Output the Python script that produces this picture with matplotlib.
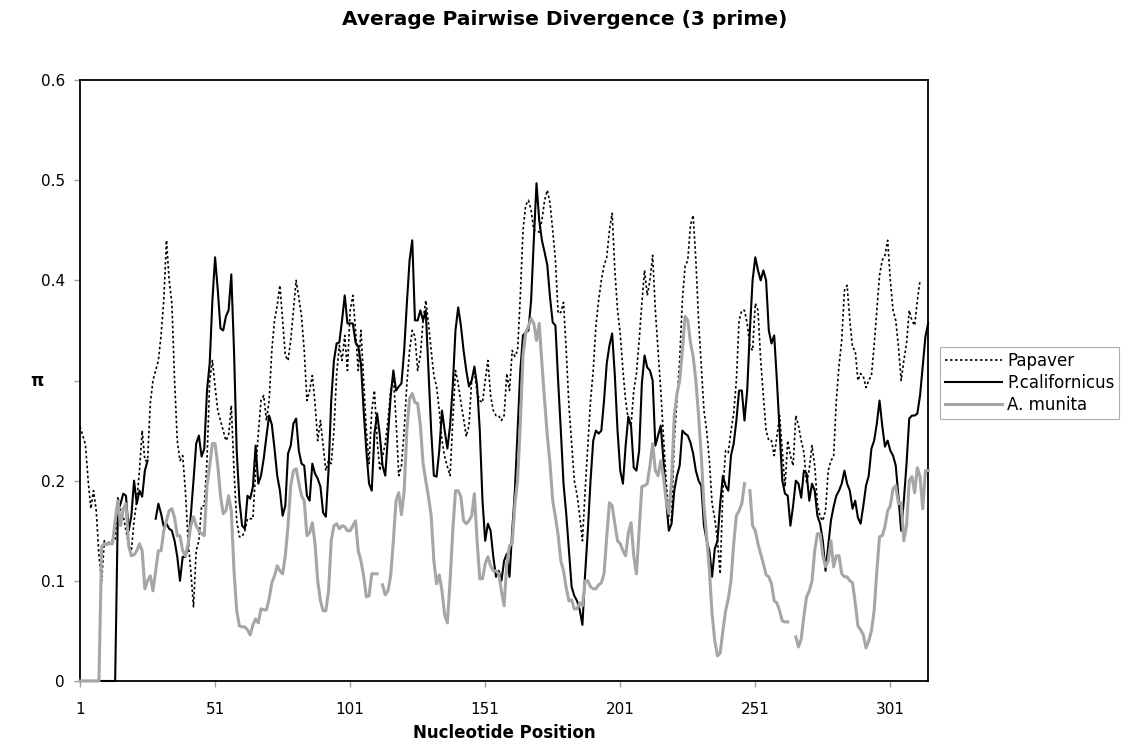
import numpy as np
import matplotlib
matplotlib.use("Agg")
from matplotlib import pyplot as plt

nan = np.nan

# valores, posicion 1..315
papaver = [
    0.254, 0.245, 0.236, 0.20, 0.172, 0.19, 0.17, 0.125, 0.10, 0.14,
    0.135, 0.14, 0.14, 0.14, 0.184, 0.17, 0.165, 0.15, 0.137, 0.13,
    0.16, 0.18, 0.21, 0.25, 0.22, 0.22, 0.277, 0.30, 0.31, 0.32,
    0.345, 0.38, 0.44, 0.40, 0.377, 0.30, 0.24, 0.22, 0.225, 0.19,
    0.14, 0.11, 0.074, 0.13, 0.14, 0.175, 0.175, 0.22, 0.30, 0.32,
    0.294, 0.27, 0.26, 0.25, 0.24, 0.245, 0.275, 0.21, 0.16, 0.144,
    0.144, 0.15, 0.162, 0.162, 0.162, 0.21, 0.247, 0.28, 0.285, 0.26,
    0.28, 0.33, 0.36, 0.375, 0.395, 0.36, 0.325, 0.32, 0.34, 0.37,
    0.40, 0.383, 0.364, 0.33, 0.28, 0.29, 0.305, 0.277, 0.24, 0.26,
    0.235, 0.21, 0.22, 0.217, 0.25, 0.307, 0.335, 0.32, 0.345, 0.31,
    0.37, 0.385, 0.35, 0.31, 0.35, 0.30, 0.25, 0.217, 0.27, 0.29,
    0.24, 0.21, 0.224, 0.237, 0.26, 0.29, 0.305, 0.26, 0.205, 0.215,
    0.25, 0.297, 0.33, 0.35, 0.344, 0.31, 0.325, 0.36, 0.38, 0.357,
    0.33, 0.305, 0.294, 0.27, 0.24, 0.224, 0.214, 0.205, 0.26, 0.31,
    0.297, 0.278, 0.262, 0.244, 0.255, 0.30, 0.31, 0.288, 0.28, 0.278,
    0.30, 0.32, 0.285, 0.27, 0.265, 0.265, 0.26, 0.265, 0.307, 0.29,
    0.33, 0.324, 0.33, 0.384, 0.45, 0.475, 0.48, 0.47, 0.45, 0.45,
    0.448, 0.46, 0.48, 0.49, 0.477, 0.45, 0.42, 0.367, 0.368, 0.378,
    0.33, 0.275, 0.237, 0.20, 0.186, 0.165, 0.14, 0.19, 0.235, 0.28,
    0.31, 0.355, 0.38, 0.40, 0.415, 0.423, 0.45, 0.467, 0.41, 0.37,
    0.347, 0.31, 0.28, 0.26, 0.255, 0.29, 0.307, 0.34, 0.377, 0.41,
    0.385, 0.40, 0.425, 0.37, 0.33, 0.29, 0.244, 0.20, 0.165, 0.16,
    0.24, 0.28, 0.32, 0.38, 0.414, 0.42, 0.455, 0.465, 0.42, 0.36,
    0.315, 0.27, 0.25, 0.22, 0.177, 0.162, 0.14, 0.107, 0.19, 0.23,
    0.228, 0.25, 0.267, 0.30, 0.36, 0.37, 0.37, 0.357, 0.334, 0.33,
    0.377, 0.37, 0.32, 0.284, 0.25, 0.24, 0.24, 0.225, 0.244, 0.265,
    0.23, 0.194, 0.24, 0.225, 0.215, 0.265, 0.255, 0.24, 0.228, 0.197,
    0.212, 0.235, 0.215, 0.177, 0.164, 0.16, 0.17, 0.21, 0.22, 0.224,
    0.28, 0.315, 0.34, 0.39, 0.395, 0.36, 0.333, 0.33, 0.30, 0.307,
    0.304, 0.293, 0.30, 0.305, 0.335, 0.37, 0.405, 0.42, 0.425, 0.44,
    0.40, 0.37, 0.36, 0.334, 0.30, 0.32, 0.337, 0.37, 0.36, 0.355,
    0.38, 0.40, nan, nan, nan,
]

californicus = [
    0, 0, 0, 0, 0, 0, 0, 0, 0, 0,
    0, 0, 0, 0, 0.17, 0.177, 0.187, 0.185, 0.15, 0.165,
    0.20, 0.177, 0.19, 0.184, 0.21, 0.22, nan, nan, 0.162, 0.177,
    0.167, 0.154, 0.157, 0.152, 0.15, 0.14, 0.124, 0.10, 0.124, 0.124,
    0.134, 0.165, 0.20, 0.237, 0.245, 0.224, 0.232, 0.29, 0.317, 0.38,
    0.423, 0.39, 0.352, 0.35, 0.364, 0.37, 0.406, 0.33, 0.23, 0.18,
    0.155, 0.152, 0.185, 0.182, 0.194, 0.235, 0.197, 0.205, 0.222, 0.244,
    0.265, 0.256, 0.232, 0.205, 0.19, 0.165, 0.175, 0.227, 0.235, 0.257,
    0.262, 0.23, 0.217, 0.215, 0.185, 0.18, 0.217, 0.207, 0.202, 0.194,
    0.168, 0.164, 0.21, 0.28, 0.32, 0.337, 0.338, 0.36, 0.385, 0.357,
    0.357, 0.357, 0.338, 0.334, 0.317, 0.27, 0.23, 0.197, 0.19, 0.247,
    0.267, 0.245, 0.215, 0.205, 0.244, 0.284, 0.31, 0.29, 0.294, 0.297,
    0.33, 0.377, 0.42, 0.44, 0.36, 0.36, 0.37, 0.36, 0.37, 0.31,
    0.25, 0.205, 0.204, 0.23, 0.27, 0.25, 0.232, 0.255, 0.295, 0.35,
    0.373, 0.355, 0.33, 0.31, 0.294, 0.30, 0.314, 0.295, 0.25, 0.18,
    0.14, 0.157, 0.15, 0.124, 0.104, 0.11, 0.10, 0.12, 0.127, 0.104,
    0.15, 0.19, 0.25, 0.31, 0.345, 0.348, 0.35, 0.38, 0.44, 0.497,
    0.46, 0.44, 0.428, 0.415, 0.383, 0.358, 0.355, 0.30, 0.25, 0.197,
    0.167, 0.13, 0.094, 0.085, 0.08, 0.071, 0.056, 0.107, 0.15, 0.20,
    0.24, 0.25, 0.247, 0.25, 0.28, 0.317, 0.335, 0.347, 0.305, 0.25,
    0.21, 0.197, 0.235, 0.264, 0.255, 0.213, 0.21, 0.23, 0.297, 0.325,
    0.313, 0.31, 0.30, 0.235, 0.245, 0.255, 0.22, 0.18, 0.15, 0.157,
    0.19, 0.205, 0.215, 0.25, 0.247, 0.245, 0.238, 0.227, 0.21, 0.20,
    0.195, 0.155, 0.14, 0.13, 0.104, 0.132, 0.14, 0.177, 0.205, 0.195,
    0.19, 0.225, 0.237, 0.26, 0.29, 0.29, 0.26, 0.29, 0.35, 0.40,
    0.423, 0.41, 0.40, 0.41, 0.40, 0.35, 0.337, 0.345, 0.30, 0.25,
    0.20, 0.187, 0.185, 0.155, 0.175, 0.20, 0.197, 0.183, 0.21, 0.207,
    0.18, 0.197, 0.19, 0.165, 0.157, 0.14, 0.11, 0.135, 0.16, 0.174,
    0.185, 0.19, 0.197, 0.21, 0.197, 0.19, 0.172, 0.18, 0.163, 0.157,
    0.175, 0.195, 0.205, 0.232, 0.24, 0.257, 0.28, 0.255, 0.234, 0.24,
    0.23, 0.225, 0.215, 0.184, 0.15, 0.18, 0.217, 0.262, 0.265, 0.265,
    0.267, 0.285, 0.314, 0.344, 0.357,
]

munita = [
    0, 0, 0, 0, 0, 0, 0, 0, 0.134, 0.137,
    0.137, 0.137, 0.137, 0.16, 0.18, 0.155, 0.172, 0.177, 0.135, 0.125,
    0.126, 0.13, 0.137, 0.13, 0.092, 0.10, 0.105, 0.09, 0.11, 0.13,
    0.13, 0.15, 0.16, 0.17, 0.172, 0.163, 0.145, 0.145, 0.13, 0.125,
    0.137, 0.155, 0.164, 0.155, 0.15, 0.147, 0.145, 0.195, 0.215, 0.237,
    0.237, 0.215, 0.185, 0.167, 0.17, 0.185, 0.17, 0.11, 0.07, 0.055,
    0.054, 0.054, 0.051, 0.046, 0.056, 0.062, 0.058, 0.072, 0.071, 0.071,
    0.082, 0.098, 0.105, 0.115, 0.11, 0.107, 0.125, 0.155, 0.195, 0.21,
    0.212, 0.198, 0.185, 0.18, 0.145, 0.148, 0.158, 0.137, 0.10, 0.08,
    0.07, 0.07, 0.09, 0.14, 0.155, 0.157, 0.152, 0.155, 0.154, 0.15,
    0.15, 0.155, 0.16, 0.13, 0.12, 0.105, 0.084, 0.085, 0.107, 0.107,
    0.107, nan, 0.096, 0.086, 0.09, 0.105, 0.14, 0.18, 0.188, 0.166,
    0.19, 0.25, 0.282, 0.287, 0.278, 0.277, 0.255, 0.217, 0.20, 0.184,
    0.165, 0.12, 0.097, 0.106, 0.09, 0.066, 0.058, 0.10, 0.15, 0.19,
    0.19, 0.184, 0.16, 0.157, 0.16, 0.165, 0.187, 0.14, 0.102, 0.102,
    0.117, 0.124, 0.115, 0.11, 0.11, 0.107, 0.09, 0.075, 0.117, 0.135,
    0.137, 0.177, 0.20, 0.257, 0.325, 0.348, 0.354, 0.362, 0.357, 0.34,
    0.357, 0.317, 0.28, 0.245, 0.217, 0.18, 0.164, 0.146, 0.12, 0.11,
    0.093, 0.08, 0.081, 0.072, 0.072, 0.078, 0.075, 0.10, 0.10, 0.094,
    0.092, 0.092, 0.096, 0.098, 0.107, 0.144, 0.178, 0.175, 0.157, 0.14,
    0.137, 0.13, 0.125, 0.148, 0.158, 0.125, 0.107, 0.15, 0.194, 0.195,
    0.197, 0.215, 0.237, 0.21, 0.205, 0.22, 0.204, 0.18, 0.167, 0.20,
    0.265, 0.287, 0.30, 0.33, 0.364, 0.36, 0.338, 0.324, 0.30, 0.265,
    0.225, 0.175, 0.144, 0.11, 0.067, 0.04, 0.025, 0.028, 0.05, 0.07,
    0.082, 0.10, 0.137, 0.165, 0.17, 0.177, 0.197, nan, 0.19, 0.155,
    0.15, 0.137, 0.127, 0.117, 0.106, 0.104, 0.097, 0.08, 0.078, 0.07,
    0.06, 0.059, 0.059, nan, nan, 0.044, 0.034, 0.042, 0.065, 0.084,
    0.09, 0.10, 0.13, 0.147, 0.147, 0.125, 0.114, 0.12, 0.14, 0.114,
    0.125, 0.125, 0.107, 0.104, 0.104, 0.10, 0.098, 0.078, 0.055, 0.051,
    0.046, 0.033, 0.04, 0.05, 0.07, 0.11, 0.144, 0.145, 0.154, 0.17,
    0.175, 0.192, 0.195, 0.177, 0.178, 0.14, 0.155, 0.20, 0.204, 0.188,
    0.213, 0.204, 0.172, 0.21, 0.21,
]

xticks = [1, 51, 101, 151, 201, 251, 301]
yticks = [0, 0.1, 0.2, 0.3, 0.4, 0.5, 0.6]
# la etiqueta 0.3 queda tapada por el titulo del eje en el original
ylabels = ["0", "0.1", "0.2", "", "0.4", "0.5", "0.6"]

fig = plt.figure(figsize=(11.29, 7.48), dpi=100)
ax = fig.add_axes([0.0709, 0.0896, 0.7512, 0.8034])

x1 = np.arange(1, len(papaver) + 1)
x2 = np.arange(1, len(californicus) + 1)
x3 = np.arange(1, len(munita) + 1)

ax.plot(x1, papaver, color="black", lw=1.2, linestyle=(0, (1.5, 1.5)),
        label="Papaver", zorder=3, clip_on=False)
ax.plot(x2, californicus, color="black", lw=1.5, label="P.californicus",
        zorder=3, clip_on=False)
ax.plot(x3, munita, color="#a6a6a6", lw=2.2, label="A. munita",
        zorder=4, clip_on=False)

ax.set_xlim(1, 315)
ax.set_ylim(0, 0.6)
ax.set_xticks(xticks)
ax.set_yticks(yticks)
ax.set_yticklabels(ylabels)
ax.tick_params(axis="both", direction="out", length=4, width=1,
               color="#a0a0a0", labelsize=11)
ax.tick_params(axis="x", pad=11)
ax.tick_params(axis="y", pad=7)
for s in ax.spines.values():
    s.set_linewidth(1.3)
    s.set_color("black")

ax.set_xlabel("Nucleotide Position", fontsize=12, fontweight="bold", labelpad=5)
fig.text(37 / 1129, 1 - 381 / 748, "π", ha="center", va="center",
         fontsize=12, fontweight="bold")
fig.text(0.5005, 0.974, "Average Pairwise Divergence (3 prime)", ha="center",
         va="center", fontsize=14.5, fontweight="bold")

leg = ax.legend(loc="center left", bbox_to_anchor=(0.833, 0.488),
                bbox_transform=fig.transFigure, fontsize=12, frameon=True,
                fancybox=False, handlelength=3.4, borderpad=0.3,
                labelspacing=0.25, handletextpad=0.3, borderaxespad=0)
leg.get_frame().set_edgecolor("#999999")
leg.get_frame().set_linewidth(0.8)

fig.savefig("out.png", dpi=100)
